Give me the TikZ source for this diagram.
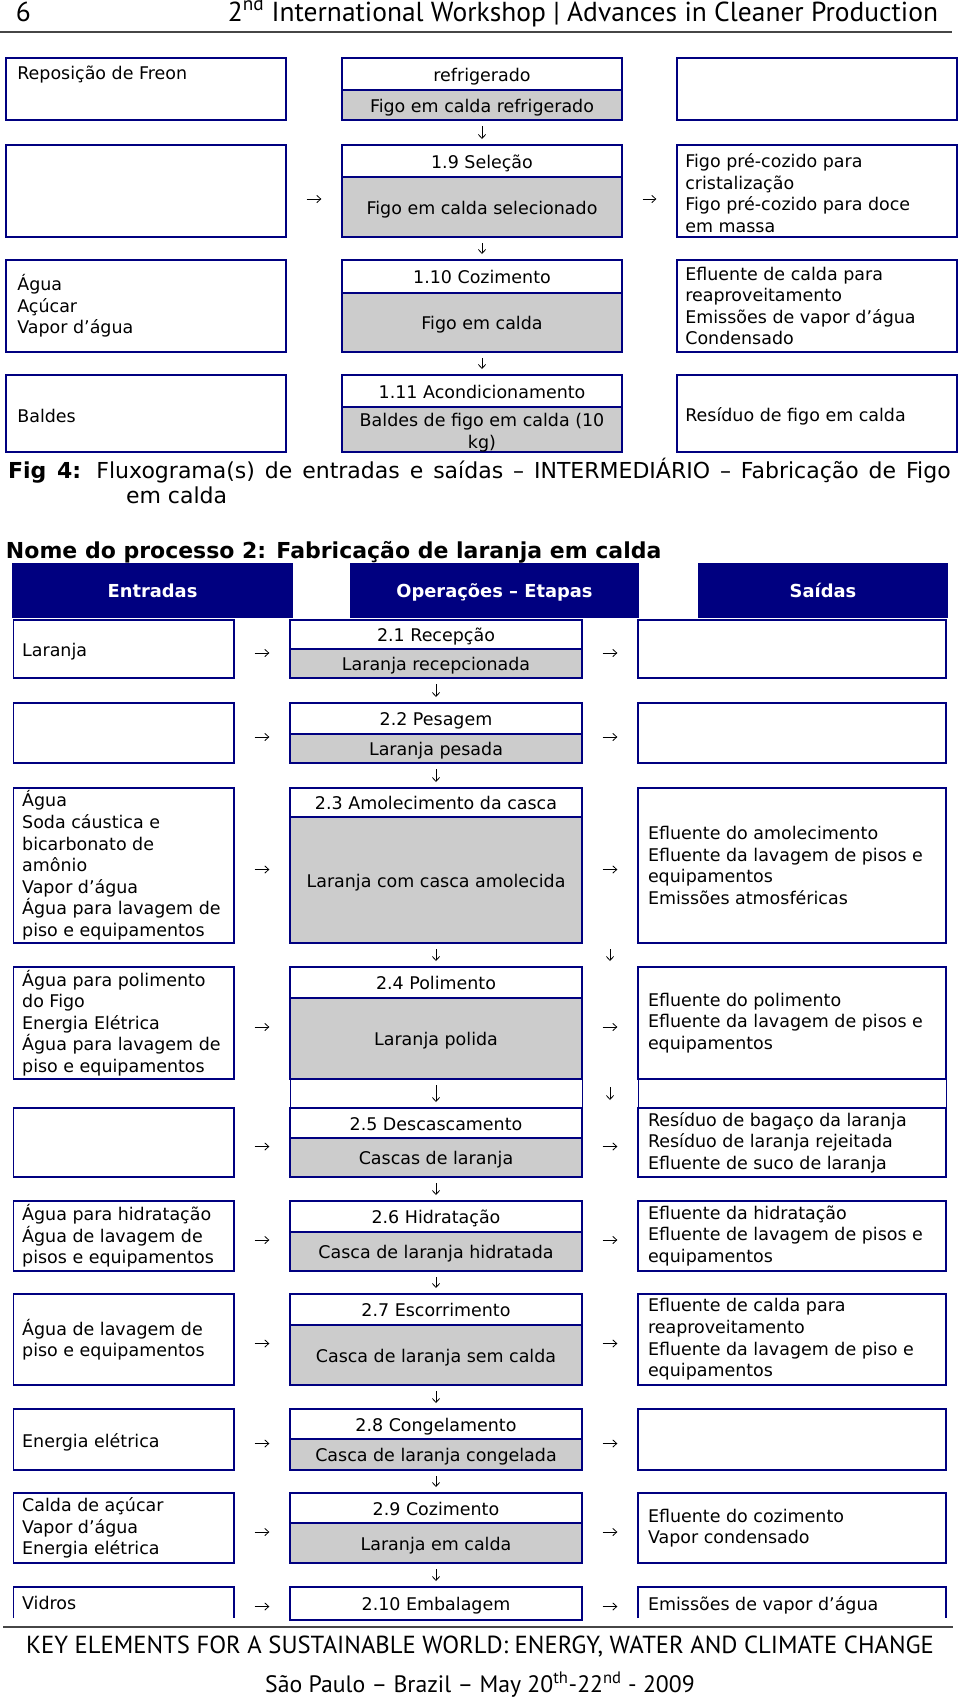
\documentclass[tikz,border=0pt]{standalone}
\usepackage{fontspec}
\setmainfont{DejaVu Sans}
\newfontfamily\hdr{PT Sans}
\usetikzlibrary{fit,calc,arrows.meta}
\definecolor{navy}{RGB}{0,0,128}
\definecolor{cgray}{RGB}{204,204,204}
\definecolor{rulegray}{RGB}{70,70,70}
\begin{document}
\begin{tikzpicture}[x=0.75pt,y=-0.75pt,
  every node/.style={inner sep=0pt,outer sep=0pt},
  bx/.style={fit={#1}},
  lbox/.style={draw=navy,line width=0.8pt},
  rbox/.style={draw=navy,line width=1.5pt},
  tbox/.style={draw=navy,line width=2pt,fill=white},
  gbox/.style={draw=navy,line width=2pt,fill=cgray},
  thinbox/.style={draw=navy,line width=0.5pt},
  txt/.style={font=\fontsize{13.1}{16.2}\selectfont,align=left,anchor=west},
  txt1/.style={txt,yshift=-1.8pt},
  ctxtm/.style={font=\fontsize{13.1}{16.2}\selectfont,align=center},
  ctxt/.style={font=\fontsize{13.1}{16.2}\selectfont,text height=9.6pt,text depth=3pt,yshift=-2pt},
  head/.style={fill=navy},
  htxt/.style={text=white,font=\fontsize{13.4}{16}\selectfont\bfseries,text height=9.8pt,text depth=3pt,yshift=-2pt},
  harr/.style={-{Straight Barb[length=3pt,width=5.5pt]},line width=0.6pt,shorten <=15.5pt,shorten >=15.5pt},
  varr/.style={-{Straight Barb[length=3pt,width=5.5pt]},line width=0.6pt,shorten <=4.5pt,shorten >=4.5pt},
  hfont/.style={font=\hdr\fontsize{20.6}{22}\selectfont},
]
\fill[white] (0,0) rectangle (960,1697);
\useasboundingbox (0,0) rectangle (960,1697);

% ---------- page header ----------
\node[anchor=base west,hfont] (pg) at (16,21) {6};
\node[anchor=base east,hfont] (ttl) at (938,21) {2\textsuperscript{nd} International Workshop | Advances in Cleaner Production};
\draw[rulegray,line width=1.5pt] (0,32) -- (952,32);

% ---------- section 1 ----------
% row 1
\node[bx={(6,58) (286,120)},lbox] (a1) {};
\node[txt] at ([xshift=8.5pt,yshift=10.5pt]a1.west) {Reposição de Freon};
\node[bx={(342,58) (622,90)},tbox] (t1) {};
\node[ctxt] at (t1.center) {refrigerado};
\node[bx={(342,90) (622,120)},gbox] (g1) {};
\node[ctxt] at (g1.center) {Figo em calda refrigerado};
\node[bx={(677,58) (957,120)},rbox] (b1) {};
% row 2
\node[bx={(6,145) (286,237)},lbox] (a2) {};
\node[bx={(342,145) (622,177)},tbox] (t2) {};
\node[ctxt] at (t2.center) {1.9 Seleção};
\node[bx={(342,177) (622,237)},gbox] (g2) {};
\node[ctxt] at (g2.center) {Figo em calda selecionado};
\node[bx={(677,145) (957,237)},rbox] (b2) {};
\node[txt] at ([xshift=6.25pt,yshift=-1.5pt]b2.west) {Figo pré-cozido para\\cristalização\\Figo pré-cozido para doce\\em massa};
\draw[harr] ($(a2.east)+(0,-6pt)$) -- ($(a2.east -| t2.west)+(0,-6pt)$);
\draw[harr] ($(a2.east -| t2.east)+(0,-6pt)$) -- ($(a2.east -| b2.west)+(0,-6pt)$);
\draw[varr] (g1.south) -- (t2.north);
% row 3
\node[bx={(6,260) (286,352)},lbox] (a3) {};
\node[txt] at ([xshift=8.5pt]a3.west) {Água\\Açúcar\\Vapor d’água};
\node[bx={(342,260) (622,293)},tbox] (t3) {};
\node[ctxt] at (t3.center) {1.10 Cozimento};
\node[bx={(342,293) (622,352)},gbox] (g3) {};
\node[ctxt] at (g3.center) {Figo em calda};
\node[bx={(677,260) (957,352)},rbox] (b3) {};
\node[txt] at ([xshift=6.25pt]b3.west) {Efluente de calda para\\reaproveitamento\\Emissões de vapor d’água\\Condensado};
\draw[varr] (g2.south) -- (t3.north);
% row 4
\node[bx={(6,375) (286,452)},lbox] (a4) {};
\node[txt1] at ([xshift=8.5pt]a4.west) {Baldes};
\node[bx={(342,375) (622,407)},tbox] (t4) {};
\node[ctxt] at (t4.center) {1.11 Acondicionamento};
\node[bx={(342,407) (622,452)},gbox] (g4) {};
\node[ctxtm] at ([yshift=-2.5pt]g4.center) {Baldes de figo em calda (10\\kg)};
\node[bx={(677,375) (957,452)},rbox] (b4) {};
\node[txt1] at ([xshift=6.25pt]b4.west) {Resíduo de figo em calda};
\draw[varr] (g3.south) -- (t4.north);

% ---------- captions ----------
\node[anchor=base west,font=\fontsize{16.5}{19}\selectfont] (cap1) at (8,478) {\makebox[707pt][s]{\textbf{Fig 4:} Fluxograma(s) de entradas e saídas – INTERMEDIÁRIO – Fabricação de Figo}};
\node[anchor=base west,font=\fontsize{16.5}{19}\selectfont] (cap2) at (126,503) {em calda};
\node[anchor=base west,font=\fontsize{16.5}{19}\selectfont\bfseries] (nome) at (6,558) {Nome do processo 2: Fabricação de laranja em calda};

% ---------- section 2 header ----------
\node[bx={(12,563) (293,618)},head] (hE) {};
\node[htxt] at (hE.center) {Entradas};
\node[bx={(350,563) (639,618)},head] (hO) {};
\node[htxt] at (hO.center) {Operações – Etapas};
\node[bx={(698,563) (948,618)},head] (hS) {};
\node[htxt] at (hS.center) {Saídas};

% thin strips between rows 4 and 5
\node[bx={(290,1079) (582,1108)},thinbox] (s1) {};
\node[bx={(638,1078) (946,1108)},thinbox] (s2) {};

% row 1
\node[bx={(13.5,620) (234,678)},lbox] (l1) {};
\node[txt1] at ([xshift=6.5pt]l1.west) {Laranja};
\node[bx={(290,620) (582,649)},tbox] (u1) {};
\node[ctxt] at (u1.center) {2.1 Recepção};
\node[bx={(290,649) (582,678)},gbox] (v1) {};
\node[ctxt] at (v1.center) {Laranja recepcionada};
\node[bx={(638,620) (946,678)},rbox] (r1) {};
% row 2
\node[bx={(13.5,703) (234,763)},lbox] (l2) {};
\node[bx={(290,703) (582,734)},tbox] (u2) {};
\node[ctxt] at (u2.center) {2.2 Pesagem};
\node[bx={(290,734) (582,763)},gbox] (v2) {};
\node[ctxt] at (v2.center) {Laranja pesada};
\node[bx={(638,703) (946,763)},rbox] (r2) {};
% row 3
\node[bx={(13.5,788) (234,943)},lbox] (l3) {};
\node[txt] at ([xshift=6.5pt]l3.west) {Água\\Soda cáustica e\\bicarbonato de\\amônio\\Vapor d’água\\Água para lavagem de\\piso e equipamentos};
\node[bx={(290,788) (582,817)},tbox] (u3) {};
\node[ctxt] at (u3.center) {2.3 Amolecimento da casca};
\node[bx={(290,817) (582,943)},gbox] (v3) {};
\node[ctxt] at (v3.center) {Laranja com casca amolecida};
\node[bx={(638,788) (946,943)},rbox] (r3) {};
\node[txt] at ([xshift=7.5pt]r3.west) {Efluente do amolecimento\\Efluente da lavagem de pisos e\\equipamentos\\Emissões atmosféricas};
% row 4
\node[bx={(13.5,967) (234,1079)},lbox] (l4) {};
\node[txt] at ([xshift=6.5pt]l4.west) {Água para polimento\\do Figo\\Energia Elétrica\\Água para lavagem de\\piso e equipamentos};
\node[bx={(290,967) (582,998)},tbox] (u4) {};
\node[ctxt] at (u4.center) {2.4 Polimento};
\node[bx={(290,998) (582,1079)},gbox] (v4) {};
\node[ctxt] at (v4.center) {Laranja polida};
\node[bx={(638,967) (946,1079)},rbox] (r4) {};
\node[txt] at ([xshift=7.5pt]r4.west) {Efluente do polimento\\Efluente da lavagem de pisos e\\equipamentos};
% row 5
\node[bx={(13.5,1108) (234,1177)},lbox] (l5) {};
\node[bx={(290,1108) (582,1138)},tbox] (u5) {};
\node[ctxt] at (u5.center) {2.5 Descascamento};
\node[bx={(290,1138) (582,1177)},gbox] (v5) {};
\node[ctxt] at (v5.center) {Cascas de laranja};
\node[bx={(638,1108) (946,1177)},rbox] (r5) {};
\node[txt] at ([xshift=7.5pt]r5.west) {Resíduo de bagaço da laranja\\Resíduo de laranja rejeitada\\Efluente de suco de laranja};
% row 6
\node[bx={(13.5,1201) (234,1271)},lbox] (l6) {};
\node[txt] at ([xshift=6.5pt]l6.west) {Água para hidratação\\Água de lavagem de\\pisos e equipamentos};
\node[bx={(290,1201) (582,1232)},tbox] (u6) {};
\node[ctxt] at (u6.center) {2.6 Hidratação};
\node[bx={(290,1232) (582,1271)},gbox] (v6) {};
\node[ctxt] at (v6.center) {Casca de laranja hidratada};
\node[bx={(638,1201) (946,1271)},rbox] (r6) {};
\node[txt] at ([xshift=7.5pt]r6.west) {Efluente da hidratação\\Efluente de lavagem de pisos e\\equipamentos};
% row 7
\node[bx={(13.5,1294) (234,1385)},lbox] (l7) {};
\node[txt] at ([xshift=6.5pt]l7.west) {Água de lavagem de\\piso e equipamentos};
\node[bx={(290,1294) (582,1325)},tbox] (u7) {};
\node[ctxt] at (u7.center) {2.7 Escorrimento};
\node[bx={(290,1325) (582,1385)},gbox] (v7) {};
\node[ctxt] at (v7.center) {Casca de laranja sem calda};
\node[bx={(638,1294) (946,1385)},rbox] (r7) {};
\node[txt] at ([xshift=7.5pt]r7.west) {Efluente de calda para\\reaproveitamento\\Efluente da lavagem de piso e\\equipamentos};
% row 8
\node[bx={(13.5,1409) (234,1470)},lbox] (l8) {};
\node[txt1] at ([xshift=6.5pt]l8.west) {Energia elétrica};
\node[bx={(290,1409) (582,1439)},tbox] (u8) {};
\node[ctxt] at (u8.center) {2.8 Congelamento};
\node[bx={(290,1439) (582,1470)},gbox] (v8) {};
\node[ctxt] at (v8.center) {Casca de laranja congelada};
\node[bx={(638,1409) (946,1470)},rbox] (r8) {};
% row 9
\node[bx={(13.5,1493) (234,1563)},lbox] (l9) {};
\node[txt] at ([xshift=6.5pt]l9.west) {Calda de açúcar\\Vapor d’água\\Energia elétrica};
\node[bx={(290,1493) (582,1523)},tbox] (u9) {};
\node[ctxt] at (u9.center) {2.9 Cozimento};
\node[bx={(290,1523) (582,1563)},gbox] (v9) {};
\node[ctxt] at (v9.center) {Laranja em calda};
\node[bx={(638,1493) (946,1563)},rbox] (r9) {};
\node[txt] at ([xshift=7.5pt]r9.west) {Efluente do cozimento\\Vapor condensado};
% row 10
\node[bx={(13.5,1587) (234,1618)}] (l10) {};
\draw[navy,line width=0.8pt] (l10.south west) -- (l10.north west) -- (l10.north east) -- (l10.south east);
\node[txt] at ([xshift=6.5pt]l10.west) {Vidros};
\node[bx={(290,1587) (582,1620)},tbox] (u10) {};
\node[ctxt] at (u10.center) {2.10 Embalagem};
\node[bx={(638,1587) (946,1618)}] (r10) {};
\draw[navy,line width=1.5pt] (r10.south west) -- (r10.north west) -- (r10.north east) -- (r10.south east);
\node[txt1] at ([xshift=7.5pt]r10.west) {Emissões de vapor d’água};

% arrows section 2
\foreach \i in {1,...,10}{
  \draw[harr] ($(l\i.east)+(0,-3pt)$) -- ($(l\i.east -| u\i.west)+(0,-3pt)$);
  \draw[harr] ($(l\i.east -| u\i.east)+(0,-3pt)$) -- ($(l\i.east -| r\i.west)+(0,-3pt)$);
}
\foreach \i/\j in {1/2,2/3,3/4,4/5,5/6,6/7,7/8,8/9,9/10}{
  \draw[varr] (v\i.south) -- (u\j.north);
}
\draw[varr] ($(v3.south east)!0.5!(r3.south west)$) -- ($(u4.north east)!0.5!(r4.north west)$);
\draw[varr,shorten <=6pt,shorten >=6pt] ($(v4.south east)!0.5!(r4.south west)$) -- ($(u5.north east)!0.5!(r5.north west)$);

% ---------- page footer ----------
\draw[rulegray,line width=1.5pt] (3,1627) -- (953,1627);
\node[anchor=base,font=\hdr\fontsize{18.5}{20}\selectfont] (k1) at (480,1653) {KEY ELEMENTS FOR A SUSTAINABLE WORLD: ENERGY, WATER AND CLIMATE CHANGE};
\node[anchor=base,font=\hdr\fontsize{17.8}{20}\selectfont] (k2) at (480,1692) {São Paulo – Brazil – May 20\textsuperscript{th}-22\textsuperscript{nd} - 2009};
\end{tikzpicture}
\end{document}
